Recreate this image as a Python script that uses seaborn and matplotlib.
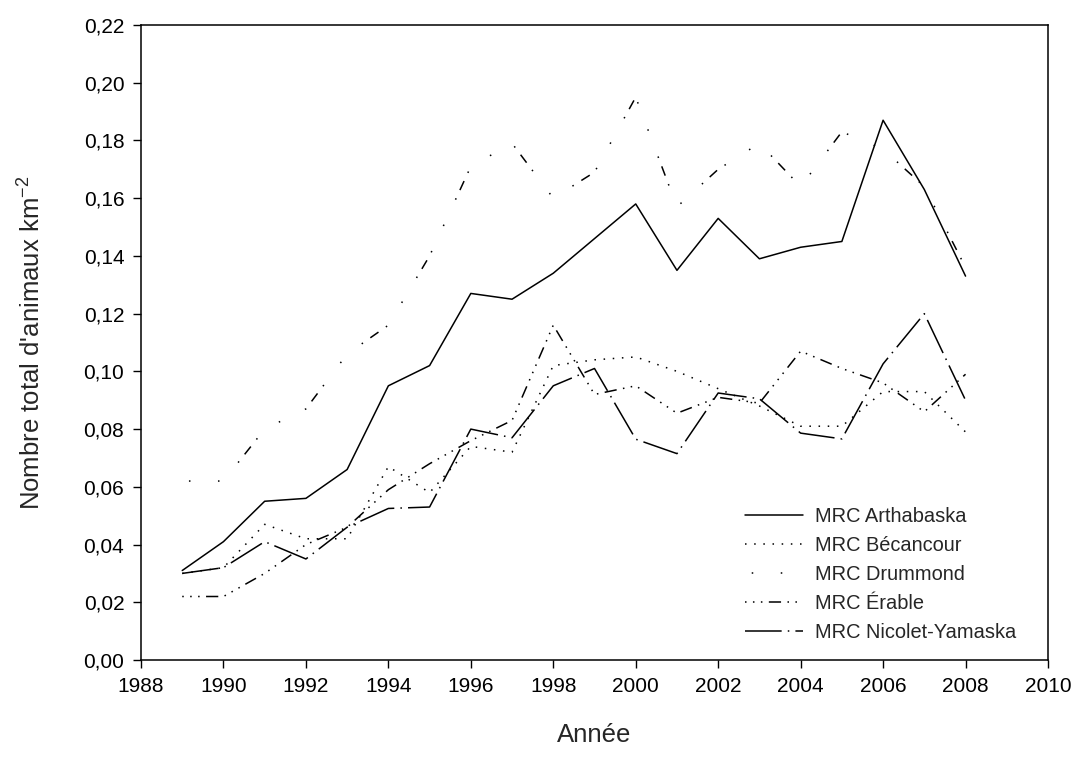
import matplotlib
matplotlib.use("Agg")
import matplotlib.pyplot as plt
from matplotlib.ticker import FuncFormatter, MultipleLocator
import seaborn as sns
import pandas as pd

years = list(range(1989, 2009))
arthabaska = [0.031, 0.041, 0.055, 0.056, 0.066, 0.095, 0.102, 0.127, 0.125, 0.134,
              0.146, 0.158, 0.135, 0.153, 0.139, 0.143, 0.145, 0.187, 0.163, 0.133]
becancour = [0.030, 0.032, 0.047, 0.042, 0.042, 0.067, 0.058, 0.074, 0.072, 0.102,
             0.104, 0.105, 0.100, 0.094, 0.088, 0.081, 0.081, 0.093, 0.093, 0.079]
drummond = [0.062, 0.062, 0.080, 0.087, 0.106, 0.116, 0.140, 0.171, 0.179, 0.160,
            0.169, 0.195, 0.157, 0.170, 0.179, 0.164, 0.183, 0.177, 0.164, 0.136]
erable = [0.022, 0.022, 0.030, 0.040, 0.046, 0.059, 0.068, 0.076, 0.083, 0.116,
          0.092, 0.095, 0.0855, 0.091, 0.089, 0.107, 0.101, 0.096, 0.086, 0.099]
nicolet = [0.030, 0.032, 0.041, 0.035, 0.046, 0.0525, 0.053, 0.080, 0.077, 0.095,
           0.101, 0.0765, 0.0715, 0.0925, 0.0905, 0.0786, 0.0766, 0.1026, 0.120, 0.090]

labels = ["MRC Arthabaska", "MRC Bécancour", "MRC Drummond", "MRC Érable", "MRC Nicolet-Yamaska"]
series = [arthabaska, becancour, drummond, erable, nicolet]

sns.set_style("ticks")
plt.rcParams["font.family"] = ["Liberation Sans", "DejaVu Sans"]
plt.rcParams["mathtext.fontset"] = "custom"
plt.rcParams["mathtext.rm"] = "Liberation Sans"
plt.rcParams["mathtext.it"] = "Liberation Sans"

styles = {
    "MRC Arthabaska": "-",
    "MRC Bécancour": (0, (1, 5)),
    "MRC Drummond": (8, (6.5, 5.9, 1, 18, 1, 18, 1, 5.9)),
    "MRC Érable": (0, (1, 4.2, 1, 4.2, 1, 4.2, 8, 4.2)),
    "MRC Nicolet-Yamaska": (0, (24, 4, 1, 4)),
}

fig = plt.figure(figsize=(10.79, 7.62), dpi=100)
ax = fig.add_axes([141 / 1079, 1 - 660 / 762, (1048 - 141) / 1079, (660 - 25) / 762])

for lab, vals in zip(labels, series):
    df = pd.DataFrame({"Année": years, "val": vals})
    sns.lineplot(data=df, x="Année", y="val", ax=ax, color="black", lw=1.1,
                 linestyle=styles[lab], label=lab)

ax.set_xlim(1988, 2010)
ax.set_ylim(0, 0.22)
ax.xaxis.set_major_locator(MultipleLocator(2))
ax.yaxis.set_major_locator(MultipleLocator(0.02))
ax.yaxis.set_major_formatter(FuncFormatter(lambda v, p: f"{v:.2f}".replace(".", ",")))
ax.tick_params(axis="both", direction="out", length=6, width=1, labelsize=15, pad=6,
               colors="black")
for s in ax.spines.values():
    s.set_linewidth(1.1)
    s.set_color("black")
    s.set_visible(True)

ax.set_xlabel("Année", fontsize=18.5, labelpad=20)
ax.set_ylabel("Nombre total d'animaux km$^{-2}$", fontsize=18.5, labelpad=27)

leg = ax.legend(loc="upper left", bbox_to_anchor=(745 / 1079, 1 - 507 / 762),
                bbox_transform=fig.transFigure, frameon=False, fontsize=14.4,
                handlelength=2.9, handletextpad=0.6, labelspacing=0.5,
                borderpad=0, borderaxespad=0)

fig.savefig("out.png", dpi=100, facecolor="white")
